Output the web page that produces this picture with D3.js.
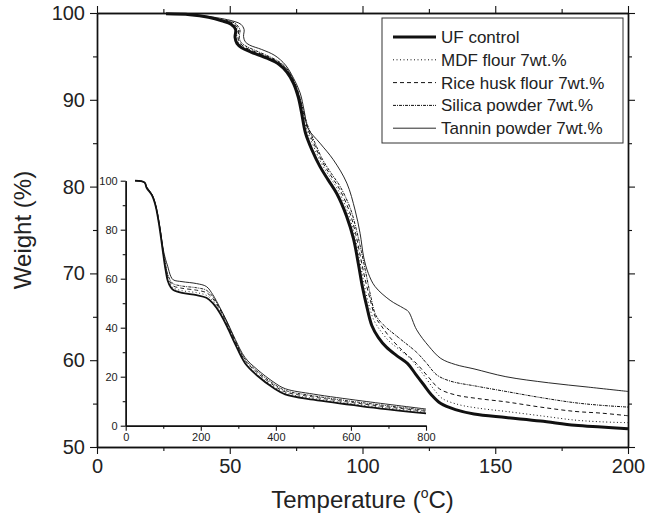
<!DOCTYPE html>
<html>
<head>
<meta charset="utf-8">
<script src="https://cdn.jsdelivr.net/npm/d3@7"></script>
<style>
  body { margin: 0; background: #fff; }
  svg { display: block; font-family: "Liberation Sans", Arial, sans-serif; }
  .axis path, .axis line { stroke: #111; }
  .axis text { fill: #222; }
</style>
</head>
<body>
<div id="chart"></div>
<script>
// Series names (legend order)
const seriesNames = ["UF control", "MDF flour 7wt.%", "Rice husk flour 7wt.%", "Silica powder 7wt.%", "Tannin powder 7wt.%"];

// Main chart: [temperature, weight]
const ufMain = [[26,99.9],[35,99.8],[42,99.5],[47,99.1],[50.5,98.7],[52.2,98.1],[52.0,97.2],[52.7,96.5],[54.5,96.0],[58,95.5],[64,94.8],[68.5,94.1],[71.5,93.2],[74,91.9],[75.8,90.3],[77,88.6],[78.5,86.2],[81,84.2],[84,82.3],[87,80.8],[90.3,79.2],[94,76.6],[96.6,74.0],[98.5,71.0],[100,68.4],[101.6,66.2],[103.5,64.0],[106,62.6],[109,61.5],[113,60.5],[117,59.6],[120,58.4],[123,57.2],[126,56.0],[129.5,55.0],[135,54.3],[142,53.8],[154,53.4],[167,53.0],[180,52.5],[190,52.3],[200,52.1]];
const mdfMain = [[26,99.9],[35,99.8],[42,99.5],[47,99.15],[51,98.75],[52.8,98.1],[52.6,97.2],[53.3,96.6],[55,96.1],[58.5,95.6],[64,94.9],[68.5,94.2],[71.5,93.4],[74,92.1],[76,90.5],[77.3,88.8],[79,86.6],[81.5,84.7],[84.5,82.7],[87.5,81.2],[90.8,79.6],[94.5,77.0],[97,74.4],[99,71.4],[100.6,68.8],[102.3,66.5],[104.3,64.6],[107,63.3],[110,62.2],[114,61.2],[118,60.2],[121,59.1],[124,57.9],[127,56.6],[130,55.6],[136,54.9],[143,54.5],[154,54.1],[167,53.6],[180,53.1],[190,52.9],[200,52.8]];
const riceMain = [[26,99.9],[35,99.8],[42,99.55],[47,99.2],[51.3,98.8],[53.3,98.1],[53.1,97.2],[53.8,96.6],[55.5,96.1],[59,95.6],[64,95.0],[68.5,94.3],[71.5,93.5],[74,92.2],[76,90.6],[77.4,88.9],[79.2,86.8],[81.8,84.9],[84.8,82.9],[88,81.3],[91.2,79.8],[95,77.2],[97.4,74.6],[99.3,71.8],[101,69.3],[102.8,67.1],[104.8,65.0],[107,64.0],[110.4,62.6],[115.4,61.0],[120.4,59.6],[125,58.0],[129,56.7],[135,56.0],[143,55.6],[154,55.2],[167,54.6],[180,54.1],[190,53.9],[200,53.6]];
const silicaMain = [[26,99.9],[35,99.8],[42,99.55],[47,99.25],[51.8,98.85],[53.8,98.1],[53.6,97.2],[54.3,96.6],[56,96.2],[59.5,95.7],[64,95.1],[68.5,94.4],[71.5,93.6],[74,92.3],[76,90.7],[77.5,89.0],[79.4,87.0],[82,85.1],[85,83.1],[88.3,81.5],[91.6,80.0],[95.4,77.5],[97.8,74.9],[99.6,72.5],[101.3,70.0],[103,67.5],[105,65.2],[107.8,64.1],[114,62.5],[120.4,60.9],[124,59.7],[128,58.3],[133,57.6],[143,57.0],[154,56.4],[167,55.7],[180,55.1],[190,54.8],[200,54.6]];
const tanninMain = [[26,99.9],[35,99.8],[42,99.6],[48,99.3],[52,99.0],[54.2,98.7],[55.4,98.1],[55.2,97.3],[55.8,96.7],[57.5,96.3],[62,95.8],[67,95.1],[71,94.0],[74,92.5],[76.5,90.8],[78,88.8],[79.5,86.7],[84,85.0],[89,83.1],[94.1,80.4],[97.2,77.3],[99.1,74.6],[100.5,71.8],[102.2,70.0],[104.7,68.5],[110.4,66.9],[115.4,66.0],[117.3,65.6],[120.4,63.5],[125,61.6],[129.5,60.2],[135,59.5],[142,59.0],[154,58.1],[170,57.4],[185,56.9],[200,56.4]];

// Inset chart: shared temperatures and weights per series
const insetTemp   = [25, 50, 56, 70, 80, 90, 100, 106, 112, 120, 127, 150, 189, 215, 232, 250, 270, 292, 318, 350, 395, 425, 500, 630, 800];
const ufInset     = [100, 99.3, 97.0, 94.0, 89.5, 81.0, 70.0, 63.8, 59.2, 56.5, 55.4, 54.2, 53.3, 52.2, 50.0, 46.2, 40.5, 33.2, 25.5, 20.5, 15.3, 12.8, 10.6, 7.9, 5.0];
const mdfInset    = [100, 99.3, 97.1, 94.1, 89.6, 81.3, 70.4, 64.5, 60.0, 57.3, 56.2, 55.1, 54.3, 53.2, 51.0, 47.0, 41.2, 33.8, 26.0, 21.0, 15.8, 13.3, 11.1, 8.4, 5.5];
const riceInset   = [100, 99.3, 97.2, 94.2, 89.7, 81.6, 70.8, 65.2, 60.8, 58.2, 57.0, 56.1, 55.3, 54.3, 51.9, 47.7, 41.8, 34.3, 26.6, 21.7, 16.4, 13.8, 11.7, 8.9, 5.9];
const silicaInset = [100, 99.3, 97.3, 94.3, 89.8, 81.8, 71.2, 66.0, 61.8, 59.0, 57.9, 57.0, 56.3, 55.3, 52.7, 48.1, 42.2, 34.7, 27.1, 22.3, 17.0, 14.4, 12.2, 9.4, 6.3];
const tanninInset = [100, 99.4, 97.4, 94.5, 90.0, 82.0, 72.0, 68.0, 65.0, 61.0, 59.5, 58.8, 58.0, 56.8, 53.5, 48.5, 42.5, 35.2, 27.8, 23.0, 17.7, 15.1, 12.9, 10.1, 6.8];

// Tick labels
const xTicks = [0, 50, 100, 150, 200];
const yTicks = [50, 60, 70, 80, 90, 100];
const insetXTicks = [0, 200, 400, 600, 800];
const insetYTicks = [0, 20, 40, 60, 80, 100];

// Line styles per series
const styles = [
  { width: 3, dash: null },
  { width: 1, dash: "1,2.5" },
  { width: 1, dash: "4,3" },
  { width: 1, dash: "3,1,1,1" },
  { width: 0.9, dash: null }
];

const W = 646, H = 519;
const svg = d3.select("#chart").append("svg").attr("width", W).attr("height", H);

// Main scales
const x = d3.scaleLinear().domain([0, 200]).range([97, 628]);
const y = d3.scaleLinear().domain([50, 100]).range([447, 13]);

// Inset scales
const xi = d3.scaleLinear().domain([0, 800]).range([125.7, 426]);
const yi = d3.scaleLinear().domain([0, 100]).range([425.7, 180.7]);

function styleAxis(g, fontSize) {
  g.attr("class", "axis");
  g.select(".domain").attr("stroke-width", 1.4);
  g.selectAll(".tick line").attr("stroke-width", 1.1);
  g.selectAll("text").style("font-size", fontSize + "px");
}

// main axes: major + minor ticks, mirrored on top and right
function addAxis(axis, tx, ty, size) {
  const g = svg.append("g").attr("transform", `translate(${tx},${ty})`).call(axis);
  styleAxis(g, size);
  return g;
}

addAxis(d3.axisBottom(x).tickValues(xTicks).tickSize(7).tickPadding(5).tickSizeOuter(0), 0, y(50), 20);
addAxis(d3.axisBottom(x).tickValues([25, 75, 125, 175]).tickSize(4).tickFormat("").tickSizeOuter(0), 0, y(50), 20);
addAxis(d3.axisTop(x).tickValues(xTicks).tickSize(7).tickFormat("").tickSizeOuter(0), 0, y(100), 20);
addAxis(d3.axisTop(x).tickValues([25, 75, 125, 175]).tickSize(4).tickFormat("").tickSizeOuter(0), 0, y(100), 20);
addAxis(d3.axisLeft(y).tickValues(yTicks).tickSize(7).tickPadding(5).tickSizeOuter(0), x(0), 0, 20);
addAxis(d3.axisLeft(y).tickValues([55, 65, 75, 85, 95]).tickSize(4).tickFormat("").tickSizeOuter(0), x(0), 0, 20);
addAxis(d3.axisRight(y).tickValues(yTicks).tickSize(7).tickFormat("").tickSizeOuter(0), x(200), 0, 20);
addAxis(d3.axisRight(y).tickValues([55, 65, 75, 85, 95]).tickSize(4).tickFormat("").tickSizeOuter(0), x(200), 0, 20);

// Axis titles
const xTitle = svg.append("text")
  .attr("x", (x(0) + x(200)) / 2).attr("y", 508)
  .attr("text-anchor", "middle").style("font-size", "24px").attr("fill", "#222");
xTitle.append("tspan").text("Temperature (");
xTitle.append("tspan").attr("dy", -10).style("font-size", "14px").text("o");
xTitle.append("tspan").attr("dy", 10).text("C)");

svg.append("text")
  .attr("transform", `translate(31,${(y(50) + y(100)) / 2}) rotate(-90)`)
  .attr("text-anchor", "middle").style("font-size", "24px").attr("fill", "#222")
  .text("Weight (%)");

// main curves
const mainData = [ufMain, mdfMain, riceMain, silicaMain, tanninMain];
const line = d3.line().x(d => x(d[0])).y(d => y(d[1])).curve(d3.curveCatmullRom.alpha(0.5));

[4, 3, 2, 1, 0].forEach(i => {
  svg.append("path")
    .datum(mainData[i])
    .attr("d", line)
    .attr("fill", "none")
    .attr("stroke", "#111")
    .attr("stroke-width", styles[i].width)
    .attr("stroke-dasharray", styles[i].dash)
    .attr("stroke-linejoin", "round");
});

// inset axes
addAxis(d3.axisBottom(xi).tickValues(insetXTicks).tickSize(5).tickPadding(3).tickSizeOuter(0), 0, yi(0), 11);
addAxis(d3.axisBottom(xi).tickValues([100, 300, 500, 700]).tickSize(3).tickFormat("").tickSizeOuter(0), 0, yi(0), 11);
addAxis(d3.axisLeft(yi).tickValues(insetYTicks).tickSize(5).tickPadding(3).tickSizeOuter(0), xi(0), 0, 11);
addAxis(d3.axisLeft(yi).tickValues([10, 30, 50, 70, 90]).tickSize(3).tickFormat("").tickSizeOuter(0), xi(0), 0, 11);

// inset curves
const insetData = [ufInset, mdfInset, riceInset, silicaInset, tanninInset];
const iline = d3.line().x((d, k) => xi(insetTemp[k])).y(d => yi(d)).curve(d3.curveCatmullRom.alpha(0.5));
[4, 3, 2, 1, 0].forEach(i => {
  svg.append("path")
    .datum(insetData[i])
    .attr("d", iline)
    .attr("fill", "none")
    .attr("stroke", "#111")
    .attr("stroke-width", i === 0 ? 1.8 : 0.9)
    .attr("stroke-dasharray", styles[i].dash)
    .attr("stroke-linejoin", "round");
});

// legend
const legend = svg.append("g");
legend.append("rect")
  .attr("x", 382).attr("y", 18).attr("width", 241).attr("height", 125)
  .attr("fill", "#fff").attr("stroke", "#333").attr("stroke-width", 1);
seriesNames.forEach((name, i) => {
  const ly = 37 + i * 22.8;
  legend.append("line")
    .attr("x1", 393).attr("x2", 436).attr("y1", ly).attr("y2", ly)
    .attr("stroke", "#111")
    .attr("stroke-width", styles[i].width)
    .attr("stroke-dasharray", styles[i].dash);
  legend.append("text")
    .attr("x", 441).attr("y", ly + 6)
    .style("font-size", "17px").attr("fill", "#222")
    .text(name);
});
</script>
</body>
</html>
